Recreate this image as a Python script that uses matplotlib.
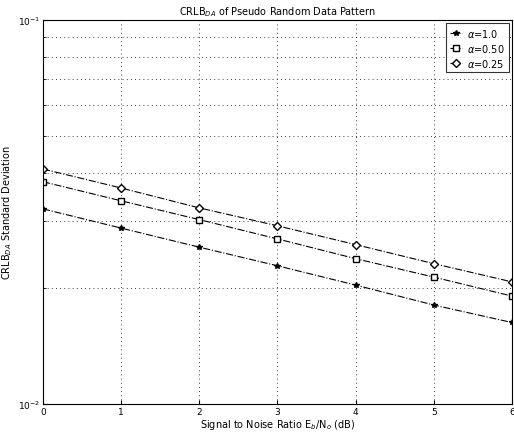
import matplotlib
matplotlib.use("Agg")
import matplotlib.pyplot as plt
from matplotlib.ticker import LogLocator, NullFormatter

snr = [0, 1, 2, 3, 4, 5, 6]
alpha_10 = [0.0322, 0.0287, 0.0256, 0.0229, 0.0204, 0.0181, 0.0163]
alpha_050 = [0.0379, 0.0338, 0.0302, 0.0269, 0.0239, 0.0214, 0.0191]
alpha_025 = [0.0409, 0.0365, 0.0324, 0.0291, 0.0260, 0.0232, 0.0208]
labels = [r"$\alpha$=1.0", r"$\alpha$=0.50", r"$\alpha$=0.25"]

fig = plt.figure(figsize=(5.14, 4.35), dpi=100)
ax = fig.add_axes([0.0837, 0.069, 0.912, 0.883])

ax.plot(snr, alpha_10, color="black", linestyle="-.", linewidth=0.8,
        marker="*", markersize=4, label=labels[0])
ax.plot(snr, alpha_050, color="black", linestyle="-.", linewidth=0.8,
        marker="s", markersize=4, markerfacecolor="white", label=labels[1])
ax.plot(snr, alpha_025, color="black", linestyle="-.", linewidth=0.8,
        marker="D", markersize=4, markerfacecolor="white", label=labels[2])

ax.set_yscale("log")
ax.set_xlim(0, 6)
ax.set_ylim(0.01, 0.1)
ax.set_xticks(snr)
ax.yaxis.set_minor_locator(LogLocator(base=10, subs=range(2, 10)))
ax.yaxis.set_minor_formatter(NullFormatter())
ax.grid(True, which="both", linestyle=(0, (1, 4)), color="black", linewidth=0.6)
ax.tick_params(axis="both", which="both", direction="in", labelsize=6.5, length=3, pad=2)
ax.tick_params(which="minor", length=2)

ax.set_title(r"CRLB$_{DA}$ of Pseudo Random Data Pattern", fontsize=7, pad=4)
ax.set_xlabel(r"Signal to Noise Ratio E$_b$/N$_o$ (dB)", fontsize=7, labelpad=1)
ax.set_ylabel(r"CRLB$_{DA}$ Standard Deviation", fontsize=7)
ax.yaxis.set_label_coords(-0.062, 0.5)

leg = ax.legend(loc="upper right", fontsize=7, handlelength=1.2, frameon=True,
                fancybox=False, edgecolor="black", borderaxespad=0.3,
                labelspacing=0.3, handletextpad=0.6)
leg.get_frame().set_linewidth(0.8)

fig.savefig("out.png", dpi=100)
